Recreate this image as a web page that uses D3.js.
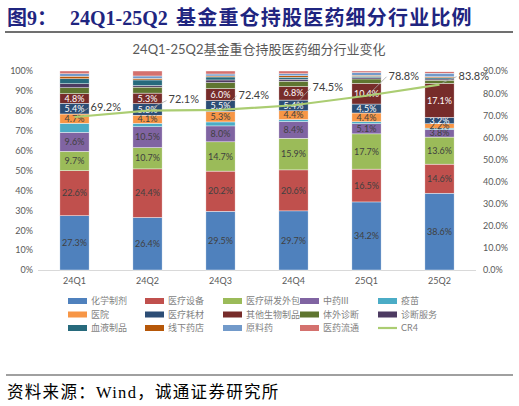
<!DOCTYPE html>
<html>
<head>
<meta charset="utf-8">
<script src="https://d3js.org/d3.v7.min.js"></script>
<style>
  body { margin: 0; background: #fff; }
  text { font-family: Lato, "Noto Sans CJK SC", sans-serif; }
</style>
</head>
<body>
<script>
// ---- data ----
var quarters = ["24Q1", "24Q2", "24Q3", "24Q4", "25Q1", "25Q2"];
var sectors = ["化学制剂", "医疗设备", "医疗研发外包", "中药III", "疫苗",
               "医院", "医疗耗材", "其他生物制品", "体外诊断", "诊断服务",
               "血液制品", "线下药店", "原料药", "医药流通"];
// share (%) per sector, one value per quarter
var huaxue   = [27.3, 26.4, 29.5, 29.7, 34.2, 38.6];
var shebei   = [22.6, 24.4, 20.2, 20.6, 16.5, 14.6];
var waibao   = [9.7, 10.7, 14.7, 15.9, 17.7, 13.6];
var zhongyao = [9.6, 10.5, 8.0, 8.4, 5.1, 3.8];
var yimiao   = [4.5, 1.7, 2.0, 1.0, 1.0, 0.7];
var yiyuan   = [4.7, 4.1, 5.3, 4.4, 4.4, 2.2];
var haocai   = [5.4, 5.8, 5.5, 5.4, 4.5, 3.2];
var shengwu  = [4.8, 5.3, 6.0, 6.8, 10.4, 17.1];
var tiwai    = [3.0, 3.0, 3.0, 2.7, 2.2, 1.6];
var zhenduan = [2.0, 0.8, 1.3, 1.0, 0.6, 0.6];
var xueye    = [2.5, 2.8, 1.5, 1.0, 0.8, 0.6];
var yaodian  = [1.3, 0.8, 0.5, 0.7, 0.5, 0.5];
var yuanliao = [1.2, 1.2, 1.0, 1.0, 1.3, 1.8];
var liutong  = [1.4, 2.5, 1.5, 1.4, 0.8, 0.7];
var cr4      = [69.2, 72.1, 72.4, 74.5, 78.8, 83.8];
var leftTicks  = [0, 10, 20, 30, 40, 50, 60, 70, 80, 90, 100];
var rightTicks = [0, 10, 20, 30, 40, 50, 60, 70, 80, 90];

var seriesValues = [huaxue, shebei, waibao, zhongyao, yimiao, yiyuan, haocai,
                    shengwu, tiwai, zhenduan, xueye, yaodian, yuanliao, liutong];

// ---- style ----
var colors = ["#4F81BD", "#C0504D", "#9BBB59", "#8064A2", "#4BACC6",
              "#F79646", "#2C4D75", "#772C2A", "#5F7530", "#4D3B62",
              "#276A7C", "#B65708", "#729ACA", "#D4716E"];
var labelled = [0, 1, 2, 3, 5, 6, 7];
var whiteLabel = [6, 7];
var lineColor = "#ABCD72";
// manual placement of CR4 data labels (dx, dy from point)
var cr4Shift = [[16, -10], [21, -11], [18, -15], [19, -18], [22, -20], [19, -9]];

var W = 519, H = 406;
var svg = d3.select("body").append("svg").attr("width", W).attr("height", H);

// header
var serif = "'Liberation Serif', 'Noto Sans CJK SC', serif";
var head = svg.append("text").attr("x", 7).attr("y", 25)
  .attr("fill", "#1F2580").attr("font-size", 20).attr("font-weight", "bold")
  .style("font-family", serif);
head.append("tspan").text("图9：");
head.append("tspan").attr("x", 70).text("24Q1-25Q2");
head.append("tspan").attr("x", 176).attr("letter-spacing", 1.2)
  .text("基金重仓持股医药细分行业比例");
svg.append("line").attr("x1", 5).attr("x2", 513).attr("y1", 32).attr("y2", 32)
  .attr("stroke", "#404040").attr("stroke-width", 1.5);

// chart title
svg.append("text").attr("x", 259).attr("y", 54).attr("text-anchor", "middle")
  .attr("font-size", 13).attr("fill", "#595959")
  .text("24Q1-25Q2基金重仓持股医药细分行业变化");

// scales
var x = d3.scaleBand().domain(quarters).range([38, 476])
  .paddingInner(0.6).paddingOuter(0.3);
var y = d3.scaleLinear().domain([0, 100]).range([270, 71]);
var y2 = d3.scaleLinear().domain([0, 90]).range([270, 71]);

// axes
var yAxis = svg.append("g").attr("transform", "translate(36,0)")
  .call(d3.axisLeft(y).tickValues(leftTicks).tickSize(0).tickPadding(3)
    .tickFormat(function(d) { return d + "%"; }));
var y2Axis = svg.append("g").attr("transform", "translate(480,0)")
  .call(d3.axisRight(y2).tickValues(rightTicks).tickSize(0).tickPadding(3)
    .tickFormat(function(d) { return d.toFixed(1) + "%"; }));
var xAxis = svg.append("g").attr("transform", "translate(0,270)")
  .call(d3.axisBottom(x).tickSize(0).tickPadding(8));
[yAxis, y2Axis, xAxis].forEach(function(g) {
  g.select(".domain").remove();
  g.selectAll("text").attr("fill", "#595959").attr("font-size", 9)
    .style("font-family", "Lato, sans-serif");
});
svg.append("line").attr("x1", 38).attr("x2", 476).attr("y1", 270.5).attr("y2", 270.5)
  .attr("stroke", "#D9D9D9").attr("stroke-width", 1);

// stacked bars
var rows = quarters.map(function(q, i) {
  var r = { q: q };
  sectors.forEach(function(s, j) { r[s] = seriesValues[j][i]; });
  return r;
});
var stacked = d3.stack().keys(sectors)(rows);

var layers = svg.selectAll("g.layer").data(stacked).enter().append("g")
  .attr("class", "layer").attr("fill", function(d, i) { return colors[i]; });
layers.selectAll("rect").data(function(d) { return d; }).enter().append("rect")
  .attr("x", function(d) { return x(d.data.q); })
  .attr("width", x.bandwidth())
  .attr("y", function(d) { return y(d[1]); })
  .attr("height", function(d) { return y(d[0]) - y(d[1]); })
  .attr("stroke", "#fff").attr("stroke-width", 0.4);

layers.filter(function(d, i) { return labelled.indexOf(i) >= 0; })
  .selectAll("text").data(function(d) {
    var idx = sectors.indexOf(d.key);
    return d.map(function(p) { return { p: p, idx: idx }; });
  }).enter().append("text")
  .attr("x", function(d) { return x(d.p.data.q) + x.bandwidth() / 2; })
  .attr("y", function(d) { return (y(d.p[0]) + y(d.p[1])) / 2; })
  .attr("dy", "0.35em").attr("text-anchor", "middle").attr("font-size", 9)
  .attr("fill", function(d) { return whiteLabel.indexOf(d.idx) >= 0 ? "#FFFFFF" : "#404040"; })
  .text(function(d) { return (d.p[1] - d.p[0]).toFixed(1) + "%"; });

// CR4 line
var cx = function(i) { return x(quarters[i]) + x.bandwidth() / 2; };
svg.append("path").datum(cr4)
  .attr("d", d3.line().x(function(d, i) { return cx(i); }).y(function(d) { return y2(d); }))
  .attr("fill", "none").attr("stroke", lineColor).attr("stroke-width", 2.2);

var cl = svg.selectAll("g.cr4lab").data(cr4).enter().append("g").attr("class", "cr4lab");
cl.append("line")
  .attr("x1", function(d, i) { return cx(i) + 3; })
  .attr("y1", function(d) { return y2(d) - 2; })
  .attr("x2", function(d, i) { return cx(i) + cr4Shift[i][0] - 2; })
  .attr("y2", function(d, i) { return y2(d) + cr4Shift[i][1] + 1; })
  .attr("stroke", "#A6A6A6").attr("stroke-width", 0.8);
cl.append("text")
  .attr("x", function(d, i) { return cx(i) + cr4Shift[i][0]; })
  .attr("y", function(d, i) { return y2(d) + cr4Shift[i][1]; })
  .attr("dy", "0.35em").attr("font-size", 11).attr("fill", "#404040")
  .text(function(d) { return d.toFixed(1) + "%"; });

// legend
var legendItems = sectors.concat(["CR4"]);
var colX = [68, 145, 223, 300, 378];
var lg = svg.selectAll("g.leg").data(legendItems).enter().append("g")
  .attr("class", "leg")
  .attr("transform", function(d, i) {
    return "translate(" + colX[i % 5] + "," + (301 + Math.floor(i / 5) * 13.5) + ")";
  });
lg.each(function(d, i) {
  var g = d3.select(this);
  if (i < sectors.length) {
    g.append("rect").attr("x", 0).attr("y", -3).attr("width", 19).attr("height", 6)
      .attr("fill", colors[i]);
  } else {
    g.append("line").attr("x1", 0).attr("x2", 19).attr("y1", 0).attr("y2", 0)
      .attr("stroke", lineColor).attr("stroke-width", 2.2);
  }
  g.append("text").attr("x", 23).attr("y", 0).attr("dy", "0.35em")
    .attr("font-size", 9).attr("fill", "#7F7F7F").text(d);
});

// footer
svg.append("line").attr("x1", 6).attr("x2", 513).attr("y1", 375).attr("y2", 375)
  .attr("stroke", "#808080").attr("stroke-width", 1.5);
svg.append("text").attr("x", 7).attr("y", 398).attr("font-size", 16.5)
  .attr("letter-spacing", 1.3).attr("fill", "#000")
  .style("font-family", serif)
  .text("资料来源：Wind，诚通证券研究所");
</script>
</body>
</html>
